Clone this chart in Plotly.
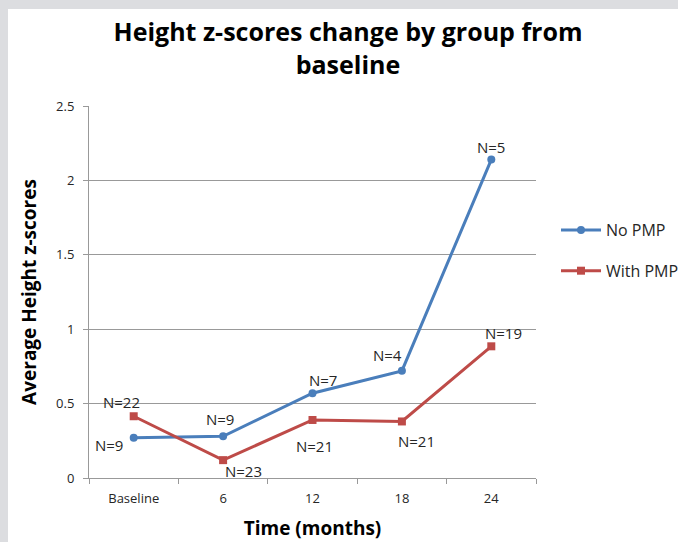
import plotly.graph_objects as go

# Follow-up time points and mean height z-scores per group
time_points = ["Baseline", "6", "12", "18", "24"]
no_pmp = [0.27, 0.28, 0.57, 0.72, 2.14]
with_pmp = [0.415, 0.12, 0.39, 0.38, 0.885]
no_pmp_n = ["N=9", "N=9", "N=7", "N=4", "N=5"]
with_pmp_n = ["N=22", "N=23", "N=21", "N=21", "N=19"]

y_ticks = [0, 0.5, 1, 1.5, 2, 2.5]
y_tick_text = ["0", "0.5", "1", "1.5", "2", "2.5"]

BLUE = "#4a7ebb"
RED = "#be4b48"
AXIS = "#999999"
TEXT = "#262626"
FONT = "'Open Sans', sans-serif"

fig = go.Figure()
fig.add_trace(go.Scatter(
    x=time_points, y=no_pmp, name="No PMP", mode="lines+markers",
    line=dict(color=BLUE, width=3), marker=dict(symbol="circle", size=8, color=BLUE),
    legendgroup="a",
))
fig.add_trace(go.Scatter(
    x=time_points, y=with_pmp, name="With PMP", mode="lines+markers",
    line=dict(color=RED, width=3), marker=dict(symbol="square", size=8, color=RED),
    legendgroup="b",
))

# Sample-size labels next to each point (pixel offsets from the point)
no_pmp_offsets = [(-25, -7), (-3, 17), (10, 13), (-14, 16), (0, 13)]
with_pmp_offsets = [(-12, 14), (20, -11), (2, -26), (15, -20), (12, 13)]
for ys, labels, offs in ((no_pmp, no_pmp_n, no_pmp_offsets),
                         (with_pmp, with_pmp_n, with_pmp_offsets)):
    for i, (y, lab, (dx, dy)) in enumerate(zip(ys, labels, offs)):
        fig.add_annotation(x=i, y=y, text=lab, showarrow=False,
                           xshift=dx, yshift=dy,
                           font=dict(family=FONT, size=15, color=TEXT))

# Grey frame along the top and left edges of the page
fig.add_shape(type="rect", xref="paper", yref="paper",
              x0=-89 / 447, x1=-81 / 447, y0=-64 / 372, y1=(372 + 106) / 372,
              fillcolor="#dcdde0", line_width=0, layer="below")
fig.add_shape(type="rect", xref="paper", yref="paper",
              x0=-89 / 447, x1=(447 + 142) / 447, y0=(372 + 97) / 372, y1=(372 + 106) / 372,
              fillcolor="#dcdde0", line_width=0, layer="below")

fig.update_layout(
    width=678, height=542,
    margin=dict(l=89, r=142, t=106, b=64, autoexpand=False),
    paper_bgcolor="white", plot_bgcolor="white",
    font=dict(family=FONT, color=TEXT),
    title=dict(
        text="<b>Height z-scores change by group from<br>baseline</b>",
        x=348 / 678, xanchor="center", y=1 - 41 / 542, yanchor="top",
        font=dict(family=FONT, size=25, color="#000000"),
    ),
    xaxis=dict(
        type="category", range=[-0.5, 4.5],
        showline=True, linecolor=AXIS, linewidth=1,
        ticks="outside", ticklen=5, tickcolor=AXIS, tickson="boundaries",
        showgrid=False, ticklabelstandoff=8,
        tickfont=dict(family=FONT, size=13, color=TEXT),
        title=dict(text="<b>Time (months)</b>", standoff=16,
                   font=dict(family=FONT, size=19, color="#000000")),
    ),
    yaxis=dict(
        range=[0, 2.5], tickvals=y_ticks, ticktext=y_tick_text,
        showline=True, linecolor=AXIS, linewidth=1,
        ticks="outside", ticklen=5, tickcolor=AXIS,
        showgrid=True, gridcolor=AXIS, gridwidth=1, zeroline=False,
        ticklabelstandoff=6,
        tickfont=dict(family=FONT, size=13, color=TEXT),
        title=dict(text="<b>Average Height z-scores</b>", standoff=14,
                   font=dict(family=FONT, size=19, color="#000000")),
    ),
    legend=dict(
        x=(556 - 89) / 447, xanchor="left",
        y=(478 - 213) / 372, yanchor="top",
        tracegroupgap=17, traceorder="grouped", itemwidth=40,
        font=dict(family=FONT, size=16, color=TEXT),
        bgcolor="rgba(0,0,0,0)",
    ),
)

fig.write_html("out.html")
